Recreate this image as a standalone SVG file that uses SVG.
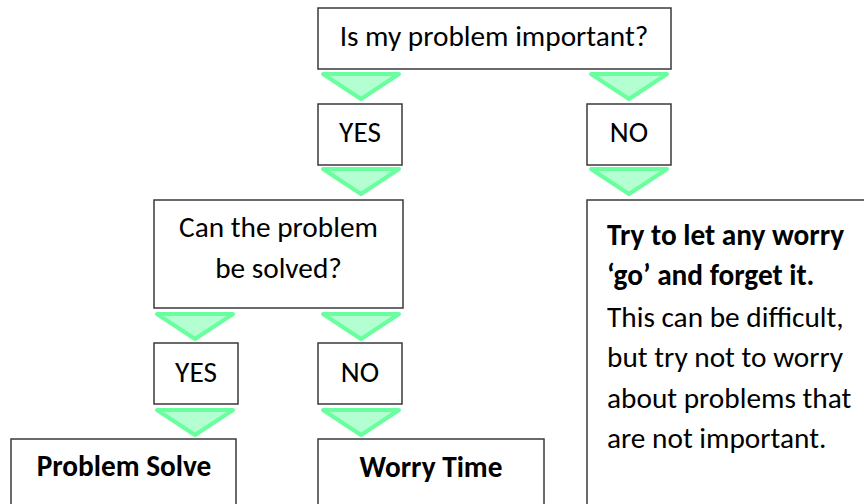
<svg xmlns="http://www.w3.org/2000/svg" xmlns:xlink="http://www.w3.org/1999/xlink" width="864" height="504" viewBox="0 0 864 504">
<style>
.box{fill:#fff;stroke:#3a3a3a;stroke-width:1.5}
.t{font-family:Carlito,"Liberation Sans",Arial,sans-serif;font-size:29.3px;fill:#000}
.c{text-anchor:middle}
.b{font-weight:bold}
.arr{fill:#b3ffd1;stroke:#6aff9e;stroke-width:4;stroke-linejoin:round}
</style>
<defs>
<path id="tri" class="arr" d="M-38,2 L38,2 L0,27 Z"/>
</defs>
<g id="connectors">
<use xlink:href="#tri" x="361" y="72"/>
<use xlink:href="#tri" x="629" y="72"/>
<use xlink:href="#tri" x="361" y="167"/>
<use xlink:href="#tri" x="629" y="167"/>
<use xlink:href="#tri" x="195" y="312"/>
<use xlink:href="#tri" x="361" y="312"/>
<use xlink:href="#tri" x="195" y="408"/>
<use xlink:href="#tri" x="361" y="408"/>
</g>
<g id="q1">
<rect class="box" x="318" y="8" width="353" height="61"/>
<text class="t c" x="494" y="46">Is my problem important?</text>
</g>
<g id="yes1">
<rect class="box" x="318" y="104" width="84" height="61"/>
<text class="t c" x="360" y="142">YES</text>
</g>
<g id="no1">
<rect class="box" x="587" y="104" width="84" height="61"/>
<text class="t c" x="629" y="142">NO</text>
</g>
<g id="q2">
<rect class="box" x="154" y="200" width="249" height="108"/>
<text class="t c" x="278.5" y="237">Can the problem</text>
<text class="t c" x="278.5" y="278">be solved?</text>
</g>
<g id="letgo">
<rect class="box" x="587" y="200" width="300" height="330"/>
<text class="t b" x="607" y="245">Try to let any worry</text>
<text class="t b" x="607" y="285">‘go’ and forget it.</text>
<text class="t" x="607" y="327">This can be difficult,</text>
<text class="t" x="607" y="367">but try not to worry</text>
<text class="t" x="607" y="408">about problems that</text>
<text class="t" x="607" y="448">are not important.</text>
</g>
<g id="yes2">
<rect class="box" x="154" y="343" width="84" height="61"/>
<text class="t c" x="196" y="382">YES</text>
</g>
<g id="no2">
<rect class="box" x="318" y="343" width="84" height="61"/>
<text class="t c" x="360" y="382">NO</text>
</g>
<g id="solve">
<rect class="box" x="11" y="439" width="225" height="100"/>
<text class="t c b" x="124" y="476">Problem Solve</text>
</g>
<g id="worry">
<rect class="box" x="318" y="439" width="226" height="100"/>
<text class="t c b" x="431" y="477">Worry Time</text>
</g>
</svg>
